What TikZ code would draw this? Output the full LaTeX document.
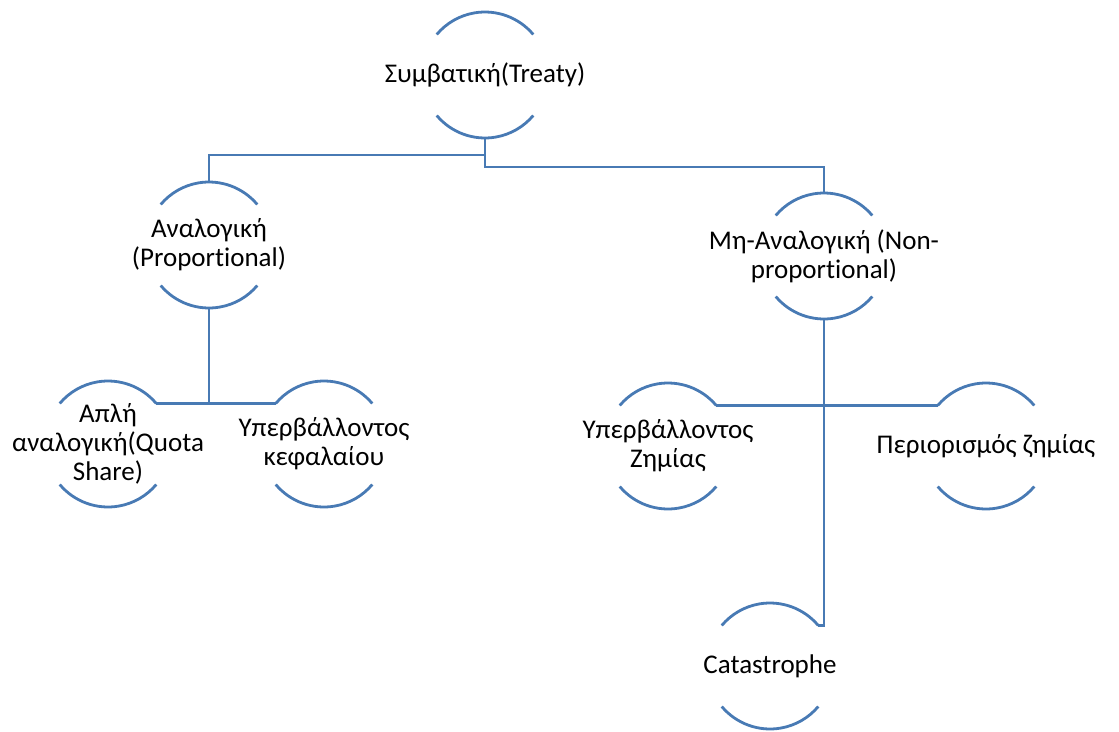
\documentclass[tikz,border=0pt]{standalone}
\usepackage{fontspec}
\setmainfont{Carlito}[Ligatures=NoCommon]
\definecolor{linkblue}{RGB}{72,122,180}
\tikzset{
  ring/.style={circle, minimum size=126pt, inner sep=0pt, outer sep=0pt, draw=none},
  lbl/.style={align=center, inner sep=0pt, font=\fontsize{27}{29}\selectfont, text=black},
  link/.style={draw=linkblue, line width=2.8pt},
}
\newcommand{\ringnode}[4]{%
  \node[ring] (#1) at (#2,#3) {};
  \node[lbl] (#1-l) at (#1.center) {#4};
  \draw[link] (#1.40) arc[start angle=40, end angle=140, radius=63pt];
  \draw[link] (#1.220) arc[start angle=220, end angle=320, radius=63pt];
}
\begin{document}
\begin{tikzpicture}[x=1pt, y=-1pt]
\useasboundingbox (0,0) rectangle (1119,731);
\ringnode{t}{485}{75}{Συμβατική(Treaty)}
\ringnode{a}{209}{245}{Αναλογική\\(Proportional)}
\ringnode{m}{824}{256}{Μη-Αναλογική (Non-\\proportional)}
\ringnode{ap}{108}{444}{Απλή\\αναλογική(Quota\\Share)}
\ringnode{yk}{324}{444}{Υπερβάλλοντος\\κεφαλαίου}
\ringnode{yz}{668}{446}{Υπερβάλλοντος\\Ζημίας}
\ringnode{pz}{986}{446}{Περιορισμός ζημίας}
\ringnode{c}{770}{666}{Catastrophe}
% connectors
\draw[link] (t.south) -- ++(0,17) -| (a.north);
\draw[link] (t.south) -- ++(0,29) -| (m.north);
\draw[link] (a.south) |- (ap.40);
\draw[link] (a.south) |- (yk.140);
\draw[link] (m.south) |- (yz.40);
\draw[link] (m.south) |- (pz.140);
\draw[link] (m.south) |- (c.40);
\end{tikzpicture}
\end{document}
